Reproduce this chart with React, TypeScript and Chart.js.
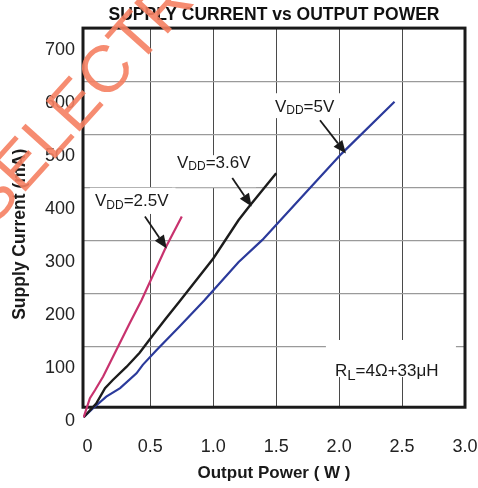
import React, { useEffect, useRef } from "react";
import { Chart, registerables } from "chart.js";

Chart.register(...registerables);

// ---- data ----
const xTicks = [0, 0.5, 1.0, 1.5, 2.0, 2.5, 3.0];
const xTickLabels = ["0", "0.5", "1.0", "1.5", "2.0", "2.5", "3.0"];
const yTicks = [0, 100, 200, 300, 400, 500, 600, 700];
const yGridValues = [140, 240, 340, 440, 540, 640];

const vdd25X = [-0.03, 0.02, 0.06, 0.125, 0.23, 0.335, 0.43, 0.625, 0.75];
const vdd25Y = [7, 43, 58, 84, 134, 184, 228, 329, 386];

const vdd36X = [-0.03, 0.07, 0.14, 0.2, 0.31, 0.415, 0.52, 0.625, 0.73, 1.0, 1.2, 1.285, 1.5];
const vdd36Y = [7, 33, 62, 77, 102, 129, 162, 194, 225, 307, 379, 405, 468];

const vdd5X = [-0.03, 0.045, 0.15, 0.26, 0.39, 0.44, 0.55, 0.73, 0.93, 1.2, 1.39, 1.73, 2.02, 2.44];
const vdd5Y = [7, 24, 46, 62, 90, 106, 134, 178, 228, 300, 342, 430, 505, 603];

const X_MIN = -0.035;
const X_MAX = 3.0;
const Y_MIN = 0;
const Y_MAX = 742;
const FRAME_BOTTOM = 26;

const FONT = '"Liberation Sans", Arial, sans-serif';

// annotations (data coordinates)
const labels = [
  { main: "V", sub: "DD", rest: "=2.5V", x: 0.06, y: 414, subSize: 12 },
  { main: "V", sub: "DD", rest: "=3.6V", x: 0.712, y: 487, subSize: 12 },
  { main: "V", sub: "DD", rest: "=5V", x: 1.49, y: 593, subSize: 12 },
  { main: "R", sub: "L", rest: "=4Ω+33μH", x: 1.967, y: 93, subSize: 15 },
];
const arrows = [
  [0.457, 386, 0.63, 326],
  [1.151, 459, 1.305, 405],
  [1.848, 568, 2.054, 505],
];
// white masks behind labels [x0, x1, y0, y1]
const masks = [
  [0.02, 0.7, 440.5, 391],
  [0.672, 1.34, 502, 441.5],
  [1.45, 2.05, 619, 572],
  [1.895, 2.928, 153, 83],
];

const decorPlugin = {
  id: "decor",
  beforeDatasetsDraw(chart: any) {
    const { ctx, chartArea: ca, scales } = chart;
    const x = scales.x;
    const y = scales.y;
    ctx.save();
    ctx.fillStyle = "#ffffff";
    for (const m of masks) {
      const x0 = x.getPixelForValue(m[0]);
      const x1 = x.getPixelForValue(m[1]);
      const y0 = y.getPixelForValue(m[2]);
      const y1 = y.getPixelForValue(m[3]);
      ctx.fillRect(Math.min(x0, x1), Math.min(y0, y1), Math.abs(x1 - x0), Math.abs(y1 - y0));
    }
    const fb = y.getPixelForValue(FRAME_BOTTOM);
    ctx.fillRect(ca.left - 3, fb, ca.right - ca.left + 6, ca.bottom - fb + 2);
    ctx.strokeStyle = "#1a1a1a";
    ctx.lineWidth = 3;
    ctx.strokeRect(ca.left, ca.top, ca.right - ca.left, fb - ca.top);
    ctx.restore();
  },
  afterDatasetsDraw(chart: any) {
    const { ctx, scales } = chart;
    const x = scales.x;
    const y = scales.y;
    ctx.save();
    ctx.fillStyle = "#1a1a1a";
    ctx.textBaseline = "middle";
    ctx.textAlign = "left";
    for (const l of labels) {
      const px = x.getPixelForValue(l.x);
      const py = y.getPixelForValue(l.y);
      ctx.font = `17px ${FONT}`;
      ctx.fillText(l.main, px, py);
      let w = ctx.measureText(l.main).width;
      ctx.font = `${l.subSize}px ${FONT}`;
      ctx.fillText(l.sub, px + w, py + 4);
      w += ctx.measureText(l.sub).width;
      ctx.font = `17px ${FONT}`;
      ctx.fillText(l.rest, px + w, py);
    }
    ctx.strokeStyle = "#1a1a1a";
    ctx.lineWidth = 1.8;
    for (const a of arrows) {
      const x0 = x.getPixelForValue(a[0]);
      const y0 = y.getPixelForValue(a[1]);
      const x1 = x.getPixelForValue(a[2]);
      const y1 = y.getPixelForValue(a[3]);
      const ang = Math.atan2(y1 - y0, x1 - x0);
      const hl = 13;
      const hw = 5.5;
      const bx = x1 - hl * Math.cos(ang);
      const by = y1 - hl * Math.sin(ang);
      ctx.beginPath();
      ctx.moveTo(x0, y0);
      ctx.lineTo(bx, by);
      ctx.stroke();
      ctx.beginPath();
      ctx.moveTo(x1, y1);
      ctx.lineTo(bx + hw * Math.sin(ang), by - hw * Math.cos(ang));
      ctx.lineTo(bx - hw * Math.sin(ang), by + hw * Math.cos(ang));
      ctx.closePath();
      ctx.fill();
    }
    ctx.restore();
  },
  afterDraw(chart: any) {
    const { ctx } = chart;
    ctx.save();
    ctx.translate(-21, 216);
    ctx.rotate((-48 * Math.PI) / 180);
    ctx.font = `66px ${FONT}`;
    ctx.fillStyle = "rgba(245,128,98,0.9)";
    ctx.textBaseline = "middle";
    ctx.textAlign = "left";
    ctx.fillText("SELECTRON", 0, 0);
    ctx.restore();
  },
};

function toPoints(xs: number[], ys: number[]) {
  return xs.map((v, i) => ({ x: v, y: ys[i] }));
}

export default function App() {
  const ref = useRef<HTMLCanvasElement | null>(null);
  useEffect(() => {
    if (!ref.current) return;
    Chart.defaults.font.family = FONT;
    const chart = new Chart(ref.current, {
      type: "line",
      data: {
        datasets: [
          {
            label: "VDD=2.5V",
            data: toPoints(vdd25X, vdd25Y),
            borderColor: "#c8326e",
            borderWidth: 2.2,
            pointRadius: 0,
            tension: 0,
            xAxisID: "x",
            yAxisID: "y",
          },
          {
            label: "VDD=3.6V",
            data: toPoints(vdd36X, vdd36Y),
            borderColor: "#1c1c1c",
            borderWidth: 2.4,
            pointRadius: 0,
            tension: 0,
            xAxisID: "x",
            yAxisID: "y",
          },
          {
            label: "VDD=5V",
            data: toPoints(vdd5X, vdd5Y),
            borderColor: "#2b3a9b",
            borderWidth: 2.2,
            pointRadius: 0,
            tension: 0,
            xAxisID: "x",
            yAxisID: "y",
          },
        ],
      },
      options: {
        responsive: false,
        animation: false,
        layout: { padding: 0 },
        scales: {
          x: {
            type: "linear",
            min: X_MIN,
            max: X_MAX,
            afterBuildTicks: (s: any) => {
              s.ticks = xTicks.map((v) => ({ value: v }));
            },
            afterFit: (s: any) => {
              s.height = 67;
              s.paddingLeft = 0;
              s.paddingRight = 13;
            },
            ticks: {
              autoSkip: false,
              maxRotation: 0,
              padding: 15,
              color: "#222",
              font: { size: 18 },
              callback: (_v: any, i: number) => xTickLabels[i],
            },
            grid: {
              drawTicks: false,
              lineWidth: 1,
              color: (c: any) =>
                c.tick && (c.tick.value <= 0 || c.tick.value >= 3) ? "rgba(0,0,0,0)" : "#4a4a4a",
            },
            border: { display: false },
            title: {
              display: true,
              text: "Output Power ( W )",
              color: "#1a1a1a",
              font: { size: 17, weight: "bold" },
              padding: { top: 0, bottom: 4 },
            },
          },
          y: {
            type: "linear",
            position: "left",
            min: Y_MIN,
            max: Y_MAX,
            afterBuildTicks: (s: any) => {
              s.ticks = yTicks.map((v) => ({ value: v }));
            },
            afterFit: (s: any) => {
              s.width = 83;
              s.paddingTop = 0;
              s.paddingBottom = 0;
            },
            ticks: {
              padding: 8,
              color: "#222",
              font: { size: 18 },
              callback: (v: any) => String(v),
            },
            grid: { display: false, drawTicks: false },
            border: { display: false },
            title: {
              display: true,
              text: "Supply Current (mA)    ",
              color: "#1a1a1a",
              font: { size: 17.5, weight: "bold" },
              padding: { top: 10, bottom: 0 },
            },
          },
          yg: {
            type: "linear",
            position: "right",
            min: Y_MIN,
            max: Y_MAX,
            afterBuildTicks: (s: any) => {
              s.ticks = yGridValues.map((v) => ({ value: v }));
            },
            afterFit: (s: any) => {
              s.width = 0;
              s.paddingTop = 0;
              s.paddingBottom = 0;
            },
            ticks: { display: false },
            grid: { drawTicks: false, color: "#9a9a9a", lineWidth: 1.3 },
            border: { display: false },
          },
        },
        plugins: {
          legend: { display: false },
          tooltip: { enabled: false },
          title: {
            display: true,
            text: "SUPPLY CURRENT vs OUTPUT POWER",
            color: "#111",
            fullSize: false,
            font: { size: 17.5, weight: "bold" },
            padding: { top: 4.5, bottom: 2.6 },
          },
        },
      },
      plugins: [decorPlugin],
    } as any);
    return () => chart.destroy();
  }, []);
  return (
    <div style={{ position: "fixed", left: 0, top: 0, width: 478, height: 488, background: "#fff" }}>
      <canvas ref={ref} width={478} height={488} />
    </div>
  );
}
